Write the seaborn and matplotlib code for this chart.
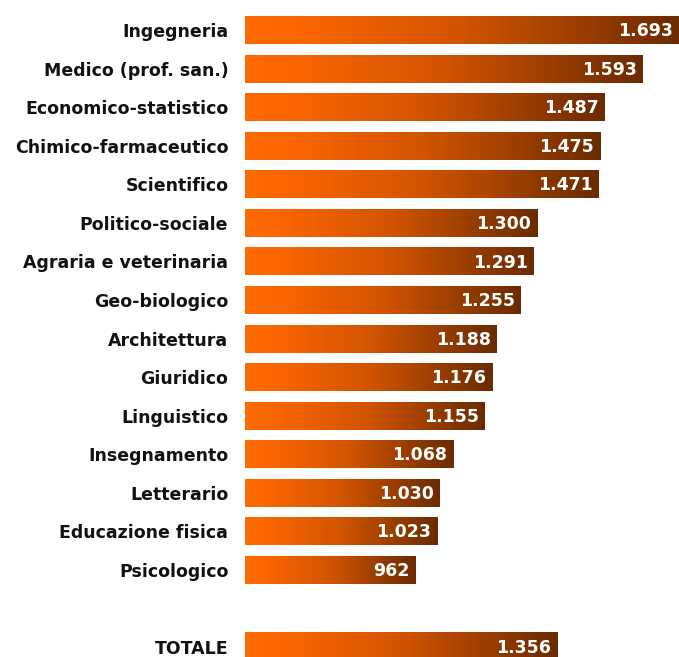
import numpy as np
import pandas as pd
import matplotlib
matplotlib.use("Agg")
import matplotlib.pyplot as plt
import seaborn as sns
from matplotlib.colors import LinearSegmentedColormap

# ── Data ──────────────────────────────────────────────────────────────────────
categories = [
    "Ingegneria", "Medico (prof. san.)", "Economico-statistico",
    "Chimico-farmaceutico", "Scientifico", "Politico-sociale",
    "Agraria e veterinaria", "Geo-biologico", "Architettura", "Giuridico",
    "Linguistico", "Insegnamento", "Letterario", "Educazione fisica",
    "Psicologico", "TOTALE",
]
values = [1693, 1593, 1487, 1475, 1471, 1300, 1291, 1255, 1188, 1176,
          1155, 1068, 1030, 1023, 962, 1356]

df = pd.DataFrame({"gruppo": categories, "valore": values})
order = categories[:-1] + [" "] + ["TOTALE"]

# ── Style ─────────────────────────────────────────────────────────────────────
sns.set_style("white")
plt.rcParams["font.family"] = ["DejaVu Sans"]

ORANGE = "#ff6a00"
BROWN = "#6b2b00"
grad = LinearSegmentedColormap.from_list(
    "og", [(0, ORANGE), (0.12, "#fb6600"), (0.5, "#d25400"), (1, BROWN)])

fig = plt.figure(figsize=(6.79, 6.57), dpi=100)
ax = fig.add_axes([245 / 679, 0, 434 / 679, 1])

sns.barplot(data=df, x="valore", y="gruppo", order=order, orient="h",
            width=0.725, color=ORANGE, ax=ax)

ax.set_xlim(490, 1693)
ax.set_ylim(16.26, -0.78)

# gradient fill for every bar
gradient = np.linspace(0, 1, 256).reshape(1, -1)
for bar in ax.patches:
    w = bar.get_width()
    if not np.isfinite(w) or w == 0:
        continue
    x0, y0 = bar.get_x(), bar.get_y()
    h = bar.get_height()
    bar.set_facecolor("none")
    bar.set_edgecolor("none")
    ax.imshow(gradient, cmap=grad, aspect="auto",
              extent=(max(x0, 490), x0 + w, y0 + h, y0),
              clip_path=bar, clip_on=True, zorder=2)

# value labels (italian thousands separator)
for cat, val in zip(categories, values):
    yi = order.index(cat)
    lab = f"{val:,}".replace(",", ".")
    ax.text(val - 17, yi + 0.03, lab, ha="right", va="center", color="white",
            fontsize=12.5, fontweight="bold", zorder=3)

ax.set_xlabel("")
ax.set_ylabel("")
ax.set_xticks([])
ax.tick_params(axis="y", length=0, pad=12)
for t in ax.get_yticklabels():
    t.set_fontweight("bold")
    t.set_fontsize(12.5)
    t.set_color("#111111")
for s in ax.spines.values():
    s.set_visible(False)
ax.set_facecolor("none")

fig.savefig("out.png", dpi=100)
